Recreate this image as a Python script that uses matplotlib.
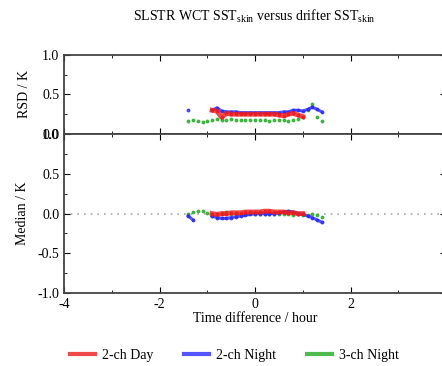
import matplotlib
matplotlib.use('Agg')
import matplotlib.pyplot as plt
from matplotlib.ticker import MultipleLocator

plt.rcParams['font.family'] = ['Liberation Serif', 'DejaVu Serif']
plt.rcParams['mathtext.fontset'] = 'custom'
plt.rcParams['mathtext.rm'] = 'Liberation Serif'

# Diferença de tempo (h) e estatísticas por série (None = sem ligação)
t_day = [-0.9, -0.8, -0.7, -0.6, -0.5, -0.4, -0.3, -0.2, -0.1, 0.0,
         0.1, 0.2, 0.3, 0.4, 0.5, 0.6, 0.7, 0.8, 0.9, 1.0]
rsd_day = [0.30, 0.29, 0.21, 0.26, 0.25, 0.25, 0.25, 0.25, 0.25, 0.25,
           0.25, 0.25, 0.25, 0.25, 0.24, 0.23, 0.25, 0.26, 0.24, 0.22]
med_day = [0.00, -0.01, 0.00, 0.00, 0.01, 0.01, 0.01, 0.02, 0.02, 0.02,
           0.02, 0.03, 0.03, 0.02, 0.02, 0.02, 0.01, 0.01, 0.00, 0.00]

t_night2 = [-1.4, -1.3, -1.1, -0.9, -0.8, -0.7, -0.6, -0.5, -0.4, -0.3, -0.2, -0.1, 0.0,
            0.1, 0.2, 0.3, 0.4, 0.5, 0.6, 0.7, 0.8, 0.9, 1.0, 1.1, 1.2, 1.3, 1.4]
rsd_night2 = [0.30, None, None, 0.30, 0.33, 0.29, 0.28, 0.28, 0.28, 0.27, 0.27, 0.27, 0.27,
              0.27, 0.27, 0.27, 0.27, 0.27, 0.28, 0.28, 0.30, 0.30, 0.29, 0.31, 0.34, 0.31, 0.28]
med_night2 = [-0.03, -0.08, None, -0.03, -0.05, -0.06, -0.06, -0.05, -0.04, -0.03, -0.02, -0.01, 0.00,
              0.00, 0.00, 0.00, 0.00, 0.01, 0.02, 0.03, 0.02, 0.00, -0.01, -0.03, -0.05, -0.08, -0.11]

t_night3 = [-1.4, -1.3, -1.2, -1.1, -1.0, -0.9, -0.8, -0.7, -0.6, -0.5, -0.4, -0.3, -0.2, -0.1, 0.0,
            0.1, 0.2, 0.3, 0.4, 0.5, 0.6, 0.7, 0.8, 0.9, 1.0, 1.1, 1.2, 1.3, 1.4]
rsd_night3 = [0.16, 0.18, 0.16, 0.15, 0.16, 0.18, 0.19, 0.18, 0.18, 0.19, 0.18, 0.18, 0.18, 0.18, 0.18,
              0.18, 0.18, 0.17, 0.18, 0.18, 0.18, 0.17, 0.18, 0.19, 0.22, 0.30, 0.38, 0.22, 0.16]
med_night3 = [0.00, 0.02, 0.03, 0.03, 0.01, -0.03, -0.04, 0.01, 0.02, 0.00, 0.00, 0.00, 0.00, 0.01, 0.00,
              0.00, 0.00, 0.00, 0.00, 0.00, -0.01, -0.01, -0.02, -0.01, -0.02, -0.02, 0.00, -0.02, -0.04]

series = [
    (t_day, rsd_day, med_day, '#ee1c1c', '2-ch Day', 3.5),
    (t_night2, rsd_night2, med_night2, '#2a2aff', '2-ch Night', 2.2),
    (t_night3, rsd_night3, med_night3, '#22aa22', '3-ch Night', 0.0),
]


def sem_none(vals):
    return [float('nan') if v is None else v for v in vals]


fig = plt.figure(figsize=(4.42, 3.66), dpi=100)
ax1 = fig.add_axes([0.145, 0.634, 0.864, 0.216])
ax2 = fig.add_axes([0.145, 0.199, 0.864, 0.435])

# Verde por baixo, vermelho por cima
for t, rsd, med, cor, nome, lw in series[::-1]:
    ax1.plot(t, sem_none(rsd), color=cor, lw=lw, marker='o', ms=1.8, alpha=0.8)
    ax2.plot(t, sem_none(med), color=cor, lw=lw, marker='o', ms=1.8, alpha=0.8)

ax2.axhline(0, color='#aaaaaa', ls=(0, (1, 3)), lw=1.2, zorder=0)

for ax in (ax1, ax2):
    ax.set_xlim(-4, 4)
    ax.set_xticks([-4, -2, 0, 2, 4])
    ax.set_xticklabels(['-4', '-2', '0', '2', ''])
    ax.xaxis.set_minor_locator(MultipleLocator(1))
    ax.yaxis.set_minor_locator(MultipleLocator(0.25))
    ax.tick_params(which='both', direction='in', top=True, right=True, labelsize=10)
    ax.tick_params(which='major', length=4)
    ax.tick_params(which='minor', length=2)
    for s in ax.spines.values():
        s.set_linewidth(1.3)
        s.set_color('#444444')

ax1.set_ylim(0, 1)
ax1.set_yticks([0, 0.5, 1.0])
ax1.set_yticklabels(['0.0', '0.5', '1.0'])
ax1.tick_params(labelbottom=False)
ax1.set_ylabel('RSD / K', fontsize=10, labelpad=8)

ax2.set_ylim(-1, 1)
ax2.set_yticks([-1.0, -0.5, 0.0, 0.5, 1.0])
ax2.set_yticklabels(['-1.0', '-0.5', '0.0', '0.5', '1.0'])
ax2.set_ylabel('Median / K', fontsize=10, labelpad=6)
ax2.set_xlabel('Time difference / hour', fontsize=10, labelpad=1)

fig.text(0.575, 0.955, r'SLSTR WCT SST$_{\mathrm{skin}}$ versus drifter SST$_{\mathrm{skin}}$',
         ha='center', va='center', fontsize=10)

handles = [plt.Line2D([], [], color=s[3], lw=3, alpha=0.8) for s in series]
labels = [s[4] for s in series]
fig.legend(handles, labels, loc='center', bbox_to_anchor=(0.53, 0.03), ncol=3,
           frameon=False, fontsize=10, handlelength=1.8, handletextpad=0.5, columnspacing=2.2)

fig.savefig('out.png', dpi=100)
